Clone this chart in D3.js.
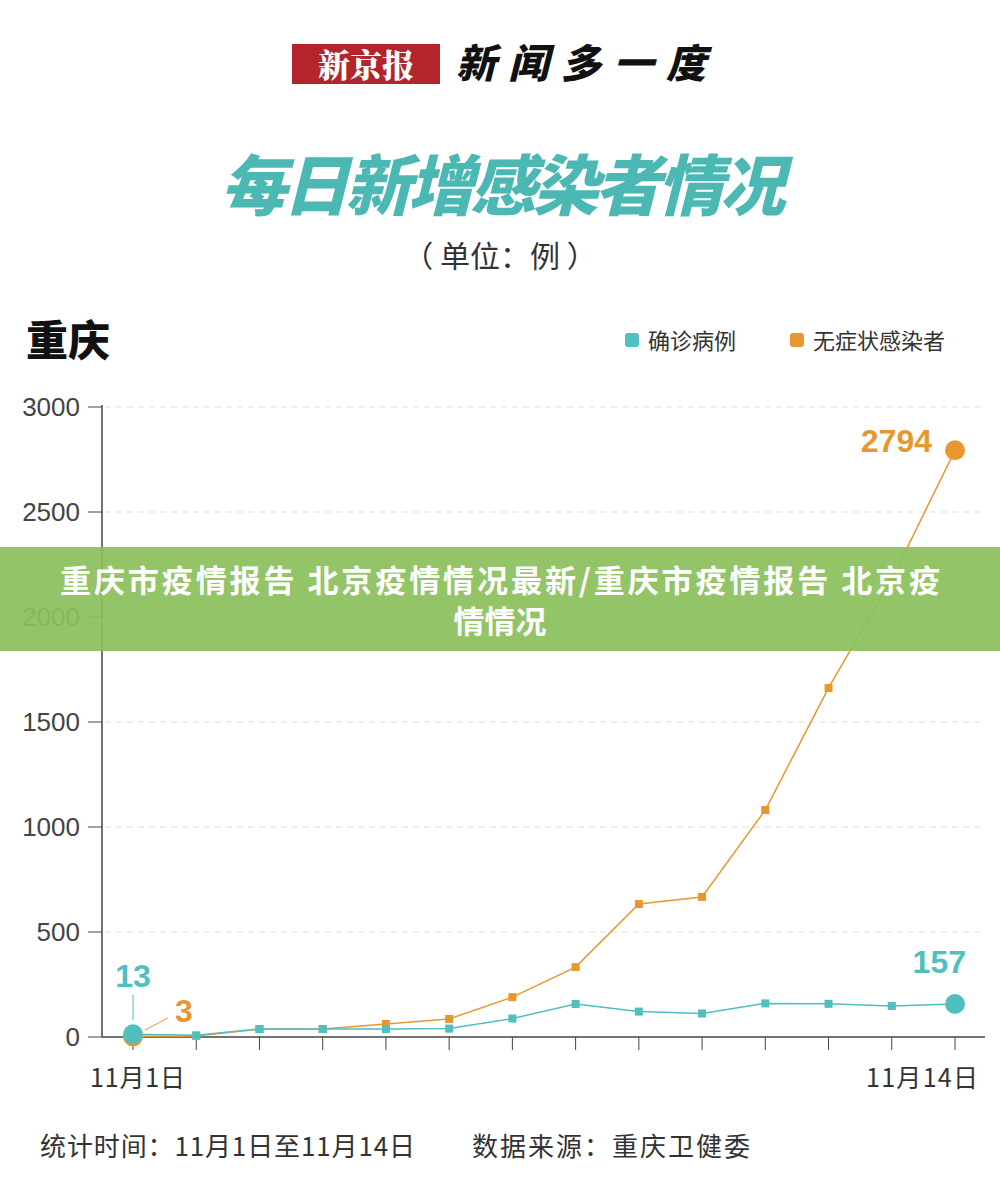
<!DOCTYPE html><html><head><meta charset="utf-8"><script src="https://cdn.jsdelivr.net/npm/d3@7"></script>
<style>body{margin:0;background:#fff}svg{font-family:"Noto Sans CJK SC","Noto Sans",sans-serif}</style></head><body>
<svg id="c" width="1000" height="1199"></svg>
<script>
const days=["11月1日","11月2日","11月3日","11月4日","11月5日","11月6日","11月7日","11月8日","11月9日","11月10日","11月11日","11月12日","11月13日","11月14日"];
const confirmed=[13,8,38,38,38,40,88,157,121,112,160,158,148,157];
const asymptomatic=[3,5,38,38,62,86,190,333,633,667,1081,1662,2180,2794];
const yTicks=[0,500,1000,1500,2000,2500,3000];
const teal="#4fbfbf",orange="#e8972f";
const svg=d3.select("#c");
svg.append("rect").attr("x",292).attr("y",44).attr("width",148).attr("height",40).attr("fill","#b3242b");
svg.append("text").attr("x",366).attr("y",77).attr("text-anchor","middle").attr("fill","#fff").attr("font-size",32).attr("font-weight",900).attr("font-family","Noto Serif CJK SC,Noto Sans CJK SC").text("新京报");
svg.append("text").attr("x",456).attr("y",78).attr("fill","#111").attr("font-size",40).attr("font-weight",900).attr("font-style","italic").attr("textLength",250).text("新闻多一度");
svg.append("text").attr("x",503).attr("y",210).attr("text-anchor","middle").attr("fill","#4bb8b4").attr("font-size",66).attr("font-weight",900).attr("font-style","italic").attr("textLength",565).text("每日新增感染者情况");
svg.append("text").attr("x",500).attr("y",267).attr("text-anchor","middle").attr("fill","#333").attr("font-size",30).text("（ 单位：例 ）");
svg.append("text").attr("x",26).attr("y",356).attr("fill","#111").attr("font-size",42).attr("font-weight",900).text("重庆");
[[625,teal,"确诊病例"],[790,orange,"无症状感染者"]].forEach(([x,c,t])=>{
svg.append("rect").attr("x",x).attr("y",333).attr("width",14).attr("height",14).attr("rx",3).attr("fill",c);
svg.append("text").attr("x",x+23).attr("y",349).attr("font-size",22).attr("fill","#333").text(t);});
const x=d3.scalePoint().domain(days).range([133,955]);
const y=d3.scaleLinear().domain([0,3000]).range([1037,407]);
const g=svg.append("g");
yTicks.forEach(t=>{if(t>0)g.append("line").attr("x1",105).attr("x2",985).attr("y1",y(t)).attr("y2",y(t)).attr("stroke","#ddd").attr("stroke-dasharray","6,5");});
g.append("line").attr("x1",102).attr("x2",102).attr("y1",405).attr("y2",1037).attr("stroke","#444").attr("stroke-width",1.5);
g.append("line").attr("x1",102).attr("x2",985).attr("y1",1037).attr("y2",1037).attr("stroke","#444").attr("stroke-width",1.5);
yTicks.forEach(t=>{g.append("line").attr("x1",88).attr("x2",102).attr("y1",y(t)).attr("y2",y(t)).attr("stroke","#444");
g.append("text").attr("x",80).attr("y",y(t)+9).attr("text-anchor","end").attr("font-size",26).attr("fill","#444").attr("font-family","Liberation Sans,sans-serif").text(t);});
days.forEach(d=>g.append("line").attr("x1",x(d)).attr("x2",x(d)).attr("y1",1037).attr("y2",1050).attr("stroke","#444"));
g.append("text").attr("x",90).attr("y",1087).attr("font-size",25).attr("fill","#333").attr("textLength",95).text(days[0]);
g.append("text").attr("x",866).attr("y",1087).attr("font-size",25).attr("fill","#333").attr("textLength",112).text(days[13]);
function series(vals,c){
g.append("path").datum(vals).attr("fill","none").attr("stroke",c).attr("stroke-width",1.5).attr("d",d3.line().x((v,i)=>x(days[i])).y(v=>y(v)));
vals.forEach((v,i)=>{if(i>0&&i<13)g.append("rect").attr("x",x(days[i])-4).attr("y",y(v)-4).attr("width",8).attr("height",8).attr("fill",c);});
[0,13].forEach(i=>g.append("circle").attr("cx",x(days[i])).attr("cy",y(vals[i])).attr("r",10).attr("fill",c));}
series(asymptomatic,orange);series(confirmed,teal);
g.append("line").attr("x1",x(days[0])).attr("x2",x(days[0])).attr("y1",995).attr("y2",1020).attr("stroke",teal);
g.append("line").attr("x1",145).attr("x2",168).attr("y1",1030).attr("y2",1018).attr("stroke",orange);
const lab=(t,xx,yy,c,a)=>g.append("text").attr("x",xx).attr("y",yy).attr("text-anchor",a).attr("font-size",32).attr("font-weight",700).attr("fill",c).attr("font-family","Liberation Sans,sans-serif").text(t);
lab(confirmed[0],133,987,teal,"middle");lab(asymptomatic[0],184,1022,orange,"middle");
lab(confirmed[13],966,973,teal,"end");lab(asymptomatic[13],932,452,orange,"end");
svg.append("text").attr("x",40).attr("y",1156).attr("font-size",26).attr("fill","#333").attr("textLength",375).text("统计时间：11月1日至11月14日");
svg.append("text").attr("x",472).attr("y",1156).attr("font-size",26).attr("fill","#333").attr("textLength",278).text("数据来源：重庆卫健委");
svg.append("rect").attr("x",0).attr("y",547).attr("width",1000).attr("height",104).attr("fill","rgba(140,192,92,0.93)");
svg.append("text").attr("x",500).attr("y",592).attr("text-anchor","middle").attr("fill","#fff").attr("font-size",31).attr("font-weight",700).attr("textLength",880).text("重庆市疫情报告 北京疫情情况最新/重庆市疫情报告 北京疫");
svg.append("text").attr("x",500).attr("y",633).attr("text-anchor","middle").attr("fill","#fff").attr("font-size",31).attr("font-weight",700).text("情情况");
</script></body></html>
